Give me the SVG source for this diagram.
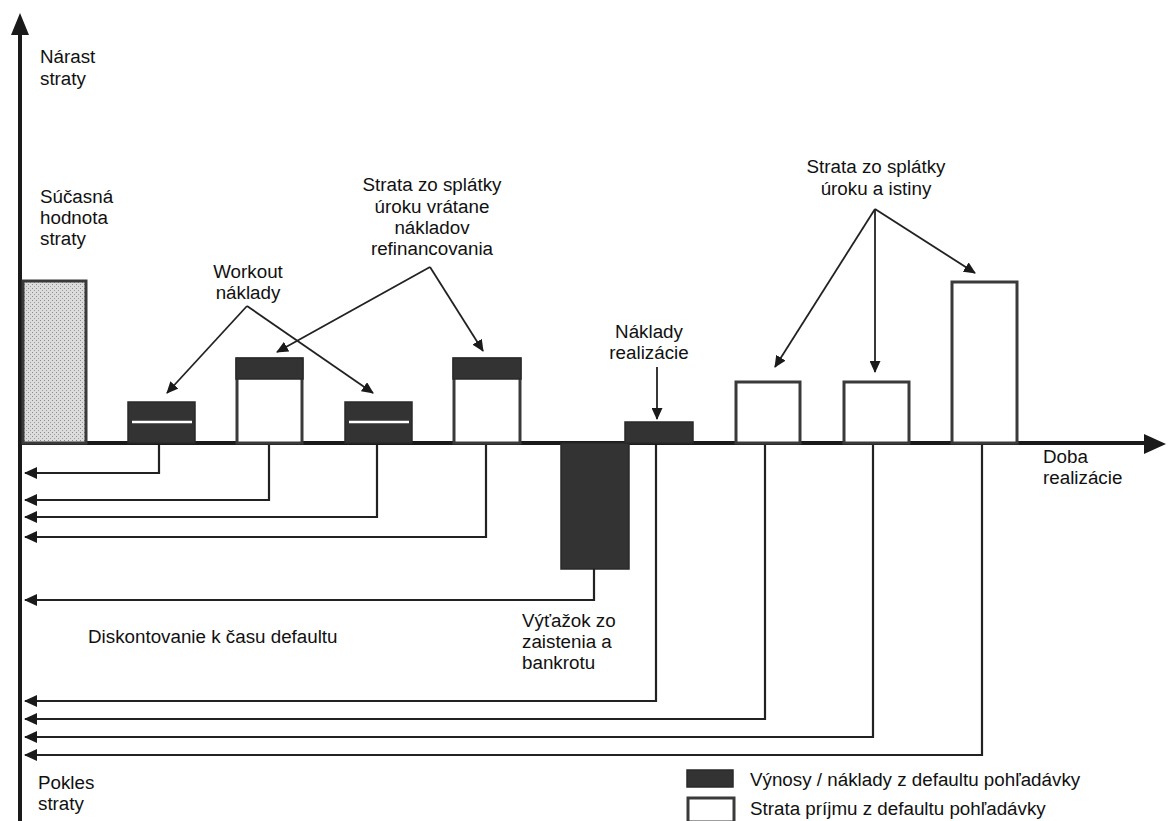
<svg xmlns="http://www.w3.org/2000/svg" width="1169" height="821" viewBox="0 0 1169 821">
<style>
text{font-family:"Liberation Sans",Arial,sans-serif;font-size:18.8px;fill:#111}
.c{text-anchor:middle}
.axis{stroke:#1a1a1a;stroke-width:4;fill:none}
.dk{fill:#333;stroke:#2a2a2a;stroke-width:1.5}
.wb{fill:#fff;stroke:#3a3a3a;stroke-width:3}
.lt{fill:url(#stip);stroke:#3a3a3a;stroke-width:3}
.disc{stroke:#222;stroke-width:2.2;fill:none;marker-end:url(#ah)}
.ann{stroke:#222;stroke-width:1.8;fill:none;marker-end:url(#ah2)}
</style>
<defs>
<pattern id="stip" width="4" height="4" patternUnits="userSpaceOnUse">
<rect width="4" height="4" fill="#dcdcdc"/>
<rect x="0" y="0" width="1" height="1" fill="#8a8a8a"/>
<rect x="2" y="2" width="1" height="1" fill="#9a9a9a"/>
</pattern>
<marker id="ah" markerWidth="13" markerHeight="12" refX="12" refY="6" orient="auto" markerUnits="userSpaceOnUse">
<path d="M0,0 L13,6 L0,12 z" fill="#1a1a1a"/>
</marker>
<marker id="ah2" markerWidth="12" markerHeight="11" refX="11" refY="5.5" orient="auto" markerUnits="userSpaceOnUse">
<path d="M0,0 L12,5.5 L0,11 z" fill="#1a1a1a"/>
</marker>
</defs>
<rect width="1169" height="821" fill="#fff"/>

<g id="axes">
<line class="axis" x1="20" y1="821" x2="20" y2="30"/>
<polygon points="20,13 11,35 29,35" fill="#1a1a1a"/>
<line class="axis" x1="20" y1="443" x2="1148" y2="443"/>
<polygon points="1166,444 1144,434 1144,454" fill="#1a1a1a"/>
</g>

<g id="bar-present-value"><rect class="lt" x="23" y="281" width="63" height="162"/></g>
<g id="bar-workout-1"><rect class="dk" x="128" y="402" width="67" height="41"/><line x1="132" y1="422" x2="192" y2="422" stroke="#fff" stroke-width="2.5"/></g>
<g id="bar-interest-1"><rect class="wb" x="237" y="359" width="65" height="84"/><rect class="dk" x="236" y="358" width="67" height="21"/></g>
<g id="bar-workout-2"><rect class="dk" x="345" y="402" width="67" height="41"/><line x1="349" y1="422" x2="409" y2="422" stroke="#fff" stroke-width="2.5"/></g>
<g id="bar-interest-2"><rect class="wb" x="454" y="359" width="66" height="84"/><rect class="dk" x="453" y="358" width="68" height="21"/></g>
<g id="bar-recovery"><rect class="dk" x="561" y="443" width="68" height="126"/></g>
<g id="bar-realization"><rect class="dk" x="625" y="422" width="68" height="21"/></g>
<g id="bar-loss-1"><rect class="wb" x="736" y="382" width="64" height="61"/></g>
<g id="bar-loss-2"><rect class="wb" x="844" y="382" width="65" height="61"/></g>
<g id="bar-loss-3"><rect class="wb" x="952" y="282" width="65" height="161"/></g>

<g id="connectors">
<path class="disc" d="M159 445 V473 H25"/>
<path class="disc" d="M269 445 V500 H25"/>
<path class="disc" d="M377 445 V517 H25"/>
<path class="disc" d="M486 445 V537 H25"/>
<path class="disc" d="M594 569 V600 H25"/>
<path class="disc" d="M656 445 V701 H25"/>
<path class="disc" d="M765 445 V719 H25"/>
<path class="disc" d="M873 445 V737 H25"/>
<path class="disc" d="M982 445 V755 H25"/>
<path class="ann" d="M247 306 L167 393"/>
<path class="ann" d="M247 306 L373 393"/>
<path class="ann" d="M430 267 L277 352"/>
<path class="ann" d="M430 267 L483 351"/>
<path class="ann" d="M657 367 V419"/>
<path class="ann" d="M875 209 L775 367"/>
<path class="ann" d="M875 209 V372"/>
<path class="ann" d="M875 209 L975 273"/>
</g>

<g id="label-increase"><text x="40" y="63">Nárast</text><text x="40" y="85">straty</text></g>
<g id="label-present"><text x="40" y="203">Súčasná</text><text x="40" y="224">hodnota</text><text x="40" y="245">straty</text></g>
<g id="label-workout"><text class="c" x="248" y="278">Workout</text><text class="c" x="248" y="299">náklady</text></g>
<g id="label-interest"><text class="c" x="432" y="191">Strata zo splátky</text><text class="c" x="432" y="213">úroku vrátane</text><text class="c" x="432" y="234">nákladov</text><text class="c" x="432" y="255">refinancovania</text></g>
<g id="label-realization"><text class="c" x="649" y="338">Náklady</text><text class="c" x="649" y="359">realizácie</text></g>
<g id="label-principal"><text class="c" x="876" y="173">Strata zo splátky</text><text class="c" x="876" y="195">úroku a istiny</text></g>
<g id="label-time"><text x="1043" y="463">Doba</text><text x="1043" y="484">realizácie</text></g>
<g id="label-recovery"><text x="522" y="627">Výťažok zo</text><text x="522" y="648">zaistenia a</text><text x="522" y="669">bankrotu</text></g>
<g id="label-discount"><text x="88" y="643">Diskontovanie k času defaultu</text></g>
<g id="label-decrease"><text x="38" y="789">Pokles</text><text x="38" y="810">straty</text></g>
<g id="legend">
<rect class="dk" x="687" y="770" width="46" height="17"/>
<text x="750" y="786">Výnosy / náklady z defaultu pohľadávky</text>
<rect class="wb" x="688" y="798" width="46" height="24"/>
<text x="750" y="815">Strata príjmu z defaultu pohľadávky</text>
</g>
</svg>
